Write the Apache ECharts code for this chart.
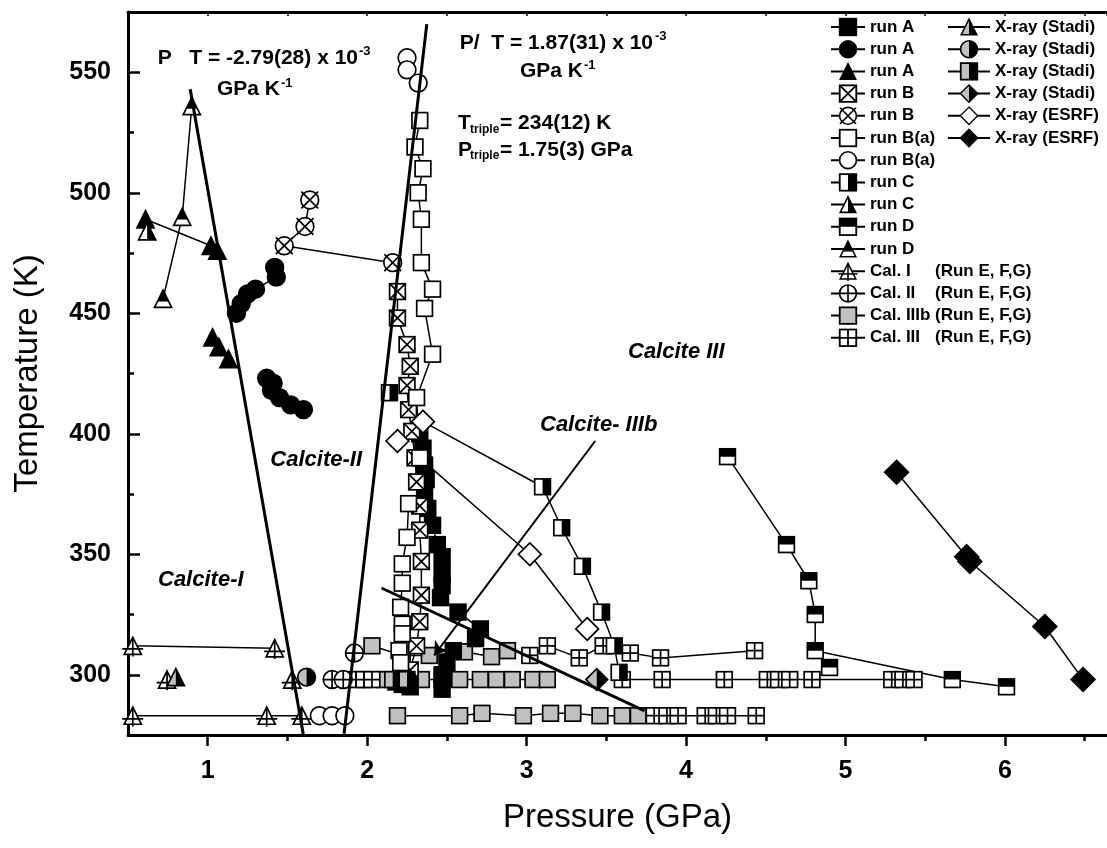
<!DOCTYPE html>
<html><head><meta charset="utf-8">
<script src="https://cdn.jsdelivr.net/npm/echarts@6/dist/echarts.min.js"></script>
<style>html,body{margin:0;padding:0;background:#fff}#c{width:1107px;height:848px}</style>
</head><body><div id="c"></div>
<script>
// ---------------- data (P in GPa, T in K) ----------------
const runA_sq = [[2.33,400],[2.35,394],[2.36,387],[2.37,381],[2.36,374],[2.38,369],[2.41,362],[2.44,354],[2.47,349],[2.47,342],[2.47,337],[2.46,332],[2.57,326],[2.71,319],[2.68,315],[2.54,310],[2.50,305],[2.47,300],[2.47,294],null,[2.18,297],[2.22,296],[2.27,295]];
const runA_ci = [[1.42,469],[1.43,465],[1.30,460],[1.25,458],[1.21,454],[1.18,450],null,[1.37,423],[1.41,421],[1.40,418],[1.45,415],[1.52,412],[1.60,410]];
const runA_tr = [[0.61,489],[1.02,478],[1.06,476],null,[1.03,440],[1.07,436],[1.13,431]];
const runB_sq = [[2.19,459],[2.19,448],[2.25,437],[2.27,428],[2.25,420],[2.26,410],[2.28,401],[2.30,390],[2.31,380],[2.33,370],[2.33,360],[2.34,347],[2.34,333],[2.33,322],[2.31,312],[2.27,302],[2.22,298]];
const runB_ci = [[1.64,497],[1.61,486],[1.48,478],[2.16,471]];
const runBa_sq = [[2.33,530],[2.30,519],[2.35,510],[2.32,500],[2.34,489],[2.34,471],[2.41,460],[2.36,452],[2.41,433],[2.31,415],[2.33,390],null,[2.26,371],[2.25,357],[2.22,346],[2.22,338],[2.21,328],[2.22,321],[2.22,317],[2.20,310],[2.21,305]];
const runBa_ci = [[1.70,283],[1.78,283],[1.86,283],null,[2.25,556],[2.25,551],[2.32,545.5]];
const runC_sq = [[2.14,417],null,[3.10,378],[3.22,361],[3.35,345],[3.47,326],[3.55,312],[3.58,301]];
const runC_tr = [[0.62,484]];
const runD_sq = [[4.26,390.5],[4.63,354],[4.77,339],[4.81,325],[4.81,310],[5.67,298],[6.01,295],null,[4.90,303]];
const runD_tr = [[0.72,456],[0.84,490],[0.90,536]];
const calI = [[0.53,312],[1.42,311],null,[0.53,283],[1.37,283],[1.59,283],null,[0.745,298],null,[1.53,298]];
const calII = [[1.78,298],[1.85,298],null,[1.92,309]];
const calIIIb = [[2.03,312],[2.22,308],[2.39,308],[2.61,309.5],[2.78,307.5],[2.88,310],null,
  [2.11,298],[2.34,298],[2.47,298],[2.58,298],[2.71,298],[2.81,298],[2.91,298],[3.04,298],[3.13,298],null,
  [2.19,283],[2.58,283],[2.72,284],[2.98,283],[3.15,284],[3.29,284],[3.46,283],[3.60,283],[3.70,283]];
const calIII = [[3.02,308],[3.13,312],[3.33,307],[3.48,312],[3.65,309],[3.84,307],[4.43,310],null,
  [1.93,298],[1.98,298],[2.03,298],null,[3.60,298],[3.85,298],[4.24,298],[4.51,298],[4.58,298],[4.65,298],[4.79,298],[5.29,298],[5.36,298],[5.43,298],null,
  [3.80,283],[3.88,283],[3.95,283],[4.12,283],[4.19,283],[4.26,283],[4.44,283]];
const stadi_tr = [[0.80,299]];
const stadi_ci = [[1.62,299]];
const stadi_sq = [[2.16,298],[2.25,298]];
const stadi_di = [[3.44,298]];
const esrf_open = [[2.19,397],null,[2.35,405],null,[3.02,350],[3.38,319]];
const esrf_fill = [[5.32,384],[5.76,349],[5.78,347],[6.25,320],[6.49,298]];
const connectors = [[2.35,405],[3.10,378],null,[2.33,390],[3.02,350]];

const boundaryI_II = [[0.89,543],[1.60,275]];
const boundaryII_III = [[1.855,275.5],[2.374,570]];
const boundaryII_IIIb = [[2.09,336],[3.74,285]];
const arrowFrom = [3.43,397];
const arrowTo = [2.42,308];

const xTicks = [1,2,3,4,5,6];
const xMinor = [1.5,2.5,3.5,4.5,5.5,6.5];
const yTicks = [300,350,400,450,500,550];
const yMinor = [325,375,425,475,525];

const legendCol1 = ['run A','run A','run A','run B','run B','run B(a)','run B(a)','run C','run C','run D','run D',
  'Cal. I|(Run E, F,G)','Cal. II|(Run E, F,G)','Cal. IIIb|(Run E, F,G)','Cal. III|(Run E, F,G)'];
const legendCol2 = ['X-ray (Stadi)','X-ray (Stadi)','X-ray (Stadi)','X-ray (Stadi)','X-ray (ESRF)','X-ray (ESRF)'];

// ---------------- symbols ----------------
const GRAY = '#c0c0c0';
function sym(shape, fill, deco, s) {
  const w = 1.7, h = s / 2;
  const p = shape === 'tri' ? 1.6 : 0.8;
  const a = p + w / 2, b = s - p - w / 2;
  let g;
  if (shape === 'sq') g = `<rect x="${a}" y="${a}" width="${b - a}" height="${b - a}"/>`;
  else if (shape === 'ci') g = `<circle cx="${h}" cy="${h}" r="${h - a}"/>`;
  else if (shape === 'tri') g = `<polygon points="${h},${a} ${b},${b} ${a},${b}"/>`;
  else g = `<polygon points="${h},${a} ${b},${h} ${h},${b} ${a},${h}"/>`;
  const base = {k: '#000', w: '#fff', g: GRAY, wk: '#fff', gk: GRAY, kw: '#fff'}[fill];
  let out = `<g fill="${base}" stroke="none">${g}</g>`;
  if (fill === 'wk' || fill === 'gk') out += `<clipPath id="c"><rect x="${h}" y="0" width="${h}" height="${s}"/></clipPath><g clip-path="url(#c)" fill="#000">${g}</g>`;
  if (fill === 'kw') { const cut = shape === 'tri' ? s * 0.62 : h; out += `<clipPath id="c"><rect x="0" y="0" width="${s}" height="${cut}"/></clipPath><g clip-path="url(#c)" fill="#000">${g}</g>`; }
  let d = '';
  if (deco === 'x') {
    if (shape === 'sq') d = `<line x1="${a}" y1="${a}" x2="${b}" y2="${b}"/><line x1="${a}" y1="${b}" x2="${b}" y2="${a}"/>`;
    else { const e = (h - a) * 0.95; d = `<line x1="${h - e}" y1="${h - e}" x2="${h + e}" y2="${h + e}"/><line x1="${h - e}" y1="${h + e}" x2="${h + e}" y2="${h - e}"/>`; }
  }
  if (deco === '+') {
    if (shape === 'sq') d = `<line x1="${h}" y1="${a}" x2="${h}" y2="${b}"/><line x1="${a}" y1="${h}" x2="${b}" y2="${h}"/>`;
    else if (shape === 'ci') d = `<line x1="${h}" y1="${a}" x2="${h}" y2="${b}"/><line x1="${a}" y1="${h}" x2="${b}" y2="${h}"/>`;
    else d = `<line x1="${h}" y1="${a}" x2="${h}" y2="${s}"/><line x1="0.5" y1="${s * 0.64}" x2="${s - 0.5}" y2="${s * 0.64}"/>`;
  }
  out += `<g fill="none" stroke="#000" stroke-width="${w}" stroke-miterlimit="6">${g}${d}</g>`;
  const svg = `<svg xmlns="http://www.w3.org/2000/svg" width="${s}" height="${s}" viewBox="0 0 ${s} ${s}">${out}</svg>`;
  return 'image://data:image/svg+xml;charset=utf-8,' + encodeURIComponent(svg);
}

const FONT = "'Liberation Sans', Arial, sans-serif";

const col1Defs = [
  [runA_sq, sym('sq','k','',19), 19],
  [runA_ci, sym('ci','k','',21), 21],
  [runA_tr, sym('tri','k','',22), 22],
  [runB_sq, sym('sq','w','x',19), 19],
  [runB_ci, sym('ci','w','x',21), 21],
  [runBa_sq, sym('sq','w','',19), 19],
  [runBa_ci, sym('ci','w','',21), 21],
  [runC_sq, sym('sq','wk','',19), 19],
  [runC_tr, sym('tri','wk','',22), 22],
  [runD_sq, sym('sq','kw','',19), 19],
  [runD_tr, sym('tri','kw','',22), 22],
  [calI, sym('tri','w','+',22), 22],
  [calII, sym('ci','w','+',21), 21],
  [calIIIb, sym('sq','g','',19), 19],
  [calIII, sym('sq','w','+',19), 19]
];
const col2Defs = [
  [stadi_tr, sym('tri','gk','',22), 22],
  [stadi_ci, sym('ci','gk','',21), 21],
  [stadi_sq, sym('sq','gk','',19), 19],
  [stadi_di, sym('di','gk','',25), 25],
  [esrf_open, sym('di','w','',26), 26],
  [esrf_fill, sym('di','k','',27), 27]
];

const series = [];
const names1 = [], names2 = [];
const order1 = [13,14,11,12,0,1,2,3,4,5,6,7,8,9,10];
function mkSeries(name, d) {
  return {type: 'line', name, data: d[0], symbol: d[1], symbolSize: d[2], showSymbol: true,
    connectNulls: false, lineStyle: {color: '#000', width: 1.5}, itemStyle: {color: '#000'},
    emphasis: {disabled: true}, silent: true, z: 2};
}
col1Defs.forEach((d, i) => names1.push(legendCol1[i] + '#' + i));
col2Defs.forEach((d, i) => names2.push(legendCol2[i] + '#' + (100 + i)));
series.push({type: 'line', name: 'conn', data: connectors, symbol: 'none', connectNulls: false,
  lineStyle: {color: '#000', width: 1.5}, silent: true, z: 1});
order1.forEach(i => series.push(mkSeries(names1[i], col1Defs[i])));
col2Defs.forEach((d, i) => series.push(mkSeries(names2[i], d)));
[boundaryI_II, boundaryII_III, boundaryII_IIIb].forEach((b, k) => series.push({
  type: 'line', name: 'b' + k, data: b, symbol: 'none', lineStyle: {color: '#000', width: 3}, silent: true, z: 5
}));
series.push({type: 'line', name: 'arrow', data: [], silent: true, z: 5,
  markLine: {silent: true, animation: false, symbol: ['none', 'arrow'], symbolSize: 13,
    lineStyle: {color: '#000', width: 2, type: 'solid'}, label: {show: false},
    data: [[{coord: arrowFrom}, {coord: arrowTo}]]}});

function legendFmt(name) {
  const lab = name.split('#')[0];
  if (lab.indexOf('|') >= 0) { const parts = lab.split('|'); return '{a|' + parts[0] + '}{b|' + parts[1] + '}'; }
  return lab;
}
const legText = {fontFamily: FONT, fontWeight: 'bold', fontSize: 17, color: '#000',
  rich: {a: {width: 65, fontFamily: FONT, fontWeight: 'bold', fontSize: 17, color: '#000'},
         b: {fontFamily: FONT, fontWeight: 'bold', fontSize: 17, color: '#000'}}};

const tickFont = {fontFamily: FONT, fontWeight: 'bold', fontSize: 25, color: '#000'};
const nameFont = {fontFamily: FONT, fontSize: 33, color: '#000'};

function txt(x, y, text, size, opts) {
  return Object.assign({type: 'text', x, y, silent: true, z: 10,
    style: Object.assign({text, fontFamily: FONT, fontWeight: 'bold', fontSize: size, fill: '#000',
      align: 'left', verticalAlign: 'middle'}, opts || {})});
}
const calcFont = {fontStyle: 'italic'};

const option = {
  animation: false,
  backgroundColor: '#fff',
  grid: {left: 128, right: 0, top: 12, bottom: 113, containLabel: false},
  xAxis: [
    {type: 'value', min: 0.5, max: 6.64, interval: 0.5, position: 'bottom',
      axisLine: {show: true, onZero: false, lineStyle: {color: '#000', width: 3}},
      axisTick: {show: true, inside: false, length: 11, customValues: xTicks, lineStyle: {color: '#000', width: 2.5}},
      axisLabel: {show: true, margin: 24, customValues: xTicks, ...tickFont, formatter: v => String(v)},
      splitLine: {show: false},
      name: 'Pressure (GPa)', nameLocation: 'middle', nameGap: 66, nameTextStyle: nameFont},
    {type: 'value', min: 0.5, max: 6.64, interval: 0.5, position: 'bottom',
      axisLine: {show: false}, axisLabel: {show: false}, splitLine: {show: false},
      axisTick: {show: true, inside: false, length: 6, customValues: xMinor, lineStyle: {color: '#000', width: 2.5}}},
    {type: 'value', min: 0.5, max: 6.64, interval: 0.5, position: 'top',
      axisLine: {show: true, onZero: false, lineStyle: {color: '#000', width: 3}},
      axisTick: {show: true, inside: true, length: 4, lineStyle: {color: '#000', width: 1.5}},
      axisLabel: {show: false}, splitLine: {show: false}}
  ],
  yAxis: [
    {type: 'value', min: 275, max: 575, interval: 25, position: 'left',
      axisLine: {show: true, onZero: false, lineStyle: {color: '#000', width: 3}},
      axisTick: {show: true, inside: true, length: 12, customValues: yTicks, lineStyle: {color: '#000', width: 2.5}},
      axisLabel: {show: true, margin: 17, customValues: yTicks, ...tickFont},
      splitLine: {show: false},
      name: 'Temperature (K)', nameLocation: 'middle', nameGap: 84, nameRotate: 90, nameTextStyle: nameFont},
    {type: 'value', min: 275, max: 575, interval: 25, position: 'left',
      axisLine: {show: false}, axisLabel: {show: false}, splitLine: {show: false},
      axisTick: {show: true, inside: true, length: 6, customValues: yMinor, lineStyle: {color: '#000', width: 2.5}}}
  ],
  legend: [
    {orient: 'vertical', left: 825, top: 12, itemWidth: 34, itemHeight: 25, itemGap: 2.2, padding: 5,
      selectedMode: false, data: names1, formatter: legendFmt, textStyle: legText},
    {orient: 'vertical', left: 942, top: 12, itemWidth: 42, itemHeight: 25, itemGap: 2.2, padding: 5,
      selectedMode: false, data: names2, formatter: legendFmt, textStyle: legText}
  ],
  graphic: {elements: [
    txt(358, 58, 'P   T = -2.79(28) x 10', 21, {align: 'right'}),
    txt(359, 51, '-3', 13),
    txt(280, 89, 'GPa K', 21, {align: 'right'}),
    txt(281, 83, '-1', 13),
    txt(653, 43.5, 'P/  T = 1.87(31) x 10', 21, {align: 'right'}),
    txt(655, 36.5, '-3', 13),
    txt(583, 71.5, 'GPa K', 21, {align: 'right'}),
    txt(584, 65.5, '-1', 13),
    txt(458, 123.5, 'T', 21),
    txt(470, 129.5, 'triple', 12),
    txt(500, 123.5, '= 234(12) K', 21),
    txt(458, 150, 'P', 21),
    txt(470, 156, 'triple', 12),
    txt(500, 150, '= 1.75(3) GPa', 21),
    txt(158, 580, 'Calcite-I', 22, calcFont),
    txt(362, 460, 'Calcite-II', 22, Object.assign({align: 'right'}, calcFont)),
    txt(540, 425, 'Calcite- IIIb', 22, calcFont),
    txt(628, 352, 'Calcite III', 22, calcFont)
  ]},
  series
};

const chart = echarts.init(document.getElementById('c'));
chart.setOption(option);
</script>
</body></html>
